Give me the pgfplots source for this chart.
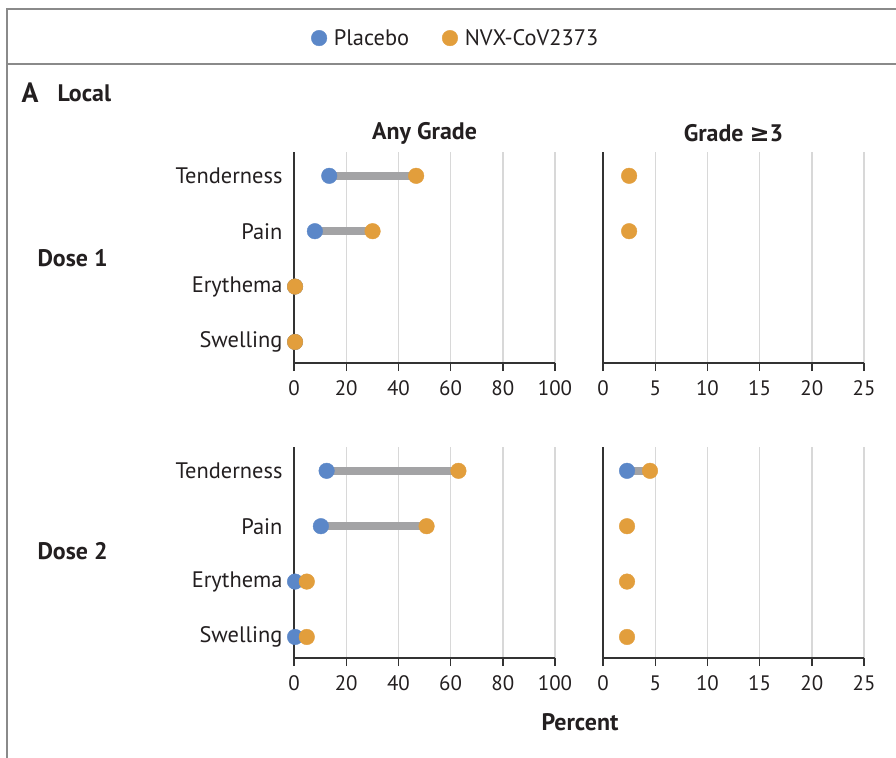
\documentclass[border=0pt]{standalone}
\usepackage{fontspec}
\setmainfont{PT Sans}
\newfontfamily\symfont{DejaVu Sans}
\usepackage{pgfplots}
\pgfplotsset{compat=1.18}

\definecolor{pblue}{HTML}{5B87C8}
\definecolor{norange}{HTML}{E29E3C}
\definecolor{bargray}{HTML}{A3A3A5}
\definecolor{gridgray}{HTML}{D8D8D8}
\definecolor{axgray}{HTML}{333333}
\definecolor{framegray}{HTML}{8A8A8A}
\definecolor{txt}{HTML}{231F20}

\tikzset{bt/.style={font=\bfseries\fontsize{24}{26}\selectfont, text=txt}}

\pgfplotsset{
 panel/.style={scale only axis, width=261bp, height=211bp, anchor=south west, clip=false,
   axis lines*=left, axis line style={axgray, line width=1.6bp},
   y dir=reverse, ymin=0.57, ymax=4.38, major tick length=8bp,
   ytick style={draw=none}, xtick style={axgray, line width=1.4bp}, tick align=outside,
   xmajorgrids, grid style={gridgray, line width=1.4bp},
   /pgf/number format/assume math mode=true,
   xticklabel style={font=\fontsize{21}{23}\selectfont, text=txt, yshift=-6bp},
   yticklabel style={font=\fontsize{22.5}{24}\selectfont, text=txt},
   },
 left panel/.style={panel, xmin=0, xmax=100, xtick={0,20,...,100}, ytick={1,2,3,4},
   yticklabels={Tenderness,Pain,Erythema,Swelling}},
 right panel/.style={panel, xmin=0, xmax=25, xtick={0,5,...,25}, ytick=\empty},
 conn/.style={bargray, line width=8bp, forget plot},
 pl/.style={only marks, mark=*, mark size=7.8bp, mark options={fill=pblue, draw=pblue}},
 nv/.style={only marks, mark=*, mark size=7.8bp, mark options={fill=norange, draw=norange}},
}

\begin{document}
\begin{tikzpicture}
\useasboundingbox (0,0) rectangle (896bp,-758bp);
% frame
\draw[framegray, line width=2bp] (896bp,-9bp) -- (7bp,-9bp) -- (7bp,-758bp);
\draw[framegray, line width=2bp] (7bp,-64bp) -- (896bp,-64bp);

% ---- Dose 1, any grade
\begin{axis}[left panel, at={(294bp,-363bp)},
  legend columns=2,
  legend style={at={(0.62,1.54)}, anchor=center, draw=none, fill=none,
    font=\fontsize{22.5}{24}\selectfont, text=txt,
    /tikz/every odd column/.append style={column sep=5bp},
    /tikz/every even column/.append style={column sep=31bp}},
  legend image code/.code={\draw[#1] plot coordinates {(0bp,0bp)};}]
\addplot[conn] coordinates {(13.5,1) (46.8,1)};
\addplot[conn] coordinates {(8.0,2) (30.1,2)};
\addplot[pl] coordinates {(13.5,1) (8.0,2) (0.4,3) (0.4,4)};
\addplot[nv] coordinates {(46.8,1) (30.1,2) (0.4,3) (0.4,4)};
\legend{Placebo, NVX-CoV2373}
\end{axis}

% ---- Dose 1, grade >=3
\begin{axis}[right panel, at={(603bp,-363bp)}]
\addplot[nv] coordinates {(2.5,1) (2.5,2)};
\end{axis}

% ---- Dose 2, any grade
\begin{axis}[left panel, at={(294bp,-658bp)}]
\addplot[conn] coordinates {(12.5,1) (63.0,1)};
\addplot[conn] coordinates {(10.3,2) (50.8,2)};
\addplot[conn] coordinates {(0.4,3) (4.9,3)};
\addplot[conn] coordinates {(0.4,4) (4.9,4)};
\addplot[pl] coordinates {(12.5,1) (10.3,2) (0.4,3) (0.4,4)};
\addplot[nv] coordinates {(63.0,1) (50.8,2) (4.9,3) (4.9,4)};
\end{axis}

% ---- Dose 2, grade >=3
\begin{axis}[right panel, at={(603bp,-658bp)}]
\addplot[conn] coordinates {(2.3,1) (4.5,1)};
\addplot[pl] coordinates {(2.3,1)};
\addplot[nv] coordinates {(4.5,1) (2.3,2) (2.3,3) (2.3,4)};
\end{axis}

% texts
\node[anchor=west, font=\bfseries\fontsize{28}{30}\selectfont, text=txt] at (18bp,-93bp) {A};
\node[anchor=west, bt] at (54bp,-93bp) {Local};
\node[bt] at (424.5bp,-133bp) {Any Grade};
\node[bt] at (733.5bp,-133bp) {Grade {\symfont ≥}3};
\node[anchor=west, bt] at (34bp,-258bp) {Dose 1};
\node[anchor=west, bt] at (34bp,-551bp) {Dose 2};
\node[bt] at (580bp,-722bp) {Percent};
\end{tikzpicture}
\end{document}
